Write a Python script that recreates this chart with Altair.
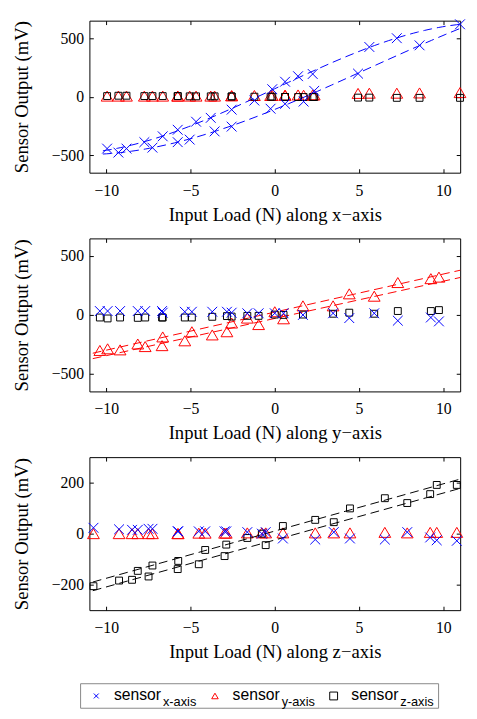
import altair as alt
import pandas as pd

# ---------------- data ----------------
# Panel 1: load along x-axis (two branches of the loading cycle)
p1_up_load = [-9.95, -8.8, -7.74, -6.65, -5.76, -4.67, -3.8, -2.56, -1.21, -0.15, 0.61, 1.38, 2.25, 5.61, 7.24, 10.99]
p1_up_sx = [-444, -444, -389, -339, -283, -214, -181, -111, -33, 64, 128, 175, 194, 425, 500, 619]
p1_up_sy = [5, 5, 5, 5, 5, 5, 5, 8, 10, 10, 12, 15, 15, 30, 30, 35]
p1_up_sz = [5, 8, 5, 5, 5, 3, 3, 2, 0, 0, -2, -3, -3, -8, -10, -10]
p1_dn_load = [-9.28, -7.26, -5.76, -5.05, -3.57, -2.56, -0.25, 0.61, 1.71, 2.34, 4.94, 8.59]
p1_dn_sx = [-478, -436, -389, -367, -297, -256, -103, -61, -42, 50, 197, 439]
p1_dn_sy = [5, 5, 5, 5, 5, 8, 10, 12, 12, 15, 28, 32]
p1_dn_sz = [8, 5, 5, 3, 3, 2, 0, -2, -3, -3, -8, -10]

# Panel 2: load along y-axis
p2_up_load = [-9.92, -8.13, -6.65, -4.92, -2.56, -1.63, 0.0, 1.67, 4.42, 7.3, 9.74]
p2_up_sx = [33, 33, 19, 27, 19, 14, 14, 0, -27, -49, -55]
p2_up_sy = [-288, -247, -187, -143, -69, -27, 27, 77, 179, 275, 321]
p2_up_sz = [-30, -25, -22, -22, -14, -8, 3, 3, 19, 33, 41]
p2_dn_load = [-10.38, -9.18, -7.69, -6.69, -5.34, -3.71, -2.84, -0.96, 0.52, 3.46, 5.9, 9.26]
p2_dn_sx = [33, 33, 33, 33, 27, 27, 27, 14, 14, 14, 14, -22]
p2_dn_sy = [-302, -297, -269, -261, -220, -170, -143, -82, -33, 77, 159, 308]
p2_dn_sz = [-22, -22, -22, -22, -22, -16, -10, -8, 0, 10, 10, 33]

# Panel 3: load along z-axis
p3_up_load = [-8.13, -7.26, -5.73, -4.13, -2.88, -1.63, -0.77, 0.48, 2.4, 4.46, 6.53, 9.61, 10.8]
p3_up_sx = [15, 19, 9, 9, 9, 6, 0, -19, -23, -19, -23, -26, -28]
p3_up_sy = [0, 0, 0, 2, 2, 3, 3, 3, 3, 3, 5, 5, 5]
p3_up_sz = [-146, -125, -107, -64, -43, -17, 0, 30, 54, 99, 139, 191, 191]
p3_dn_load = [-10.76, -9.24, -8.47, -7.49, -5.76, -4.51, -2.98, -0.54, 3.5, 7.86, 9.22]
p3_dn_sx = [23, 17, 15, 19, 9, 9, 9, 6, 6, 6, -15]
p3_dn_sy = [0, 0, 0, 0, 0, 2, 2, 3, 3, 3, 5]
p3_dn_sz = [-206, -184, -181, -168, -139, -120, -88, -45, 45, 120, 155]

x_ticks = [-10, -5, 0, 5, 10]
y_ticks_12 = [-500, 0, 500]
y_ticks_3 = [-200, 0, 200]
legend_keys = ["x-axis", "y-axis", "z-axis"]
legend_word = ["sensor", "sensor", "sensor"]
legend_pos = [0, 1, 2]

# ---------------- styling ----------------
SERIF = "Liberation Serif"
SANS = "Liberation Sans"
X_PATH = "M-1,-1L1,1M-1,1L1,-1"
TRI_PATH = "M0,-0.85L1,0.85L-1,0.85Z"
SQ_PATH = "M-1,-1L1,-1L1,1L-1,1Z"
COLORS = {"x": "#0000ff", "y": "#ff0000", "z": "#000000"}
SHAPES = {"x": X_PATH, "y": TRI_PATH, "z": SQ_PATH}
SIZES = {"x": 100, "y": 144, "z": 49}

W = 378


def build_df(up_load, up_sx, up_sy, up_sz, dn_load, dn_sx, dn_sy, dn_sz):
    rows = []
    for branch, L, sx, sy, sz in (("up", up_load, up_sx, up_sy, up_sz),
                                  ("down", dn_load, dn_sx, dn_sy, dn_sz)):
        for i, l in enumerate(L):
            rows.append({"load": l, "sensor": "x", "value": sx[i], "branch": branch})
            rows.append({"load": l, "sensor": "y", "value": sy[i], "branch": branch})
            rows.append({"load": l, "sensor": "z", "value": sz[i], "branch": branch})
    return pd.DataFrame(rows)


def panel(df, fit_sensor, ydom, yticks, xtitle, method, order, height):
    xs = alt.Scale(domain=[-11, 11], nice=False, zero=False)
    ys = alt.Scale(domain=ydom, nice=False, zero=False)
    common = dict(domain=False, grid=False, ticks=True, tickSize=4, tickColor="black",
                  tickWidth=1, offset=-4)
    lab = dict(labelFont=SERIF, labelFontSize=16, labelColor="black",
               titleFont=SERIF, titleFontSize=19, titleFontWeight="normal", titleColor="black")
    xaxis = alt.Axis(values=x_ticks, title=xtitle, labelPadding=10, titlePadding=7.5, **common, **lab)
    yaxis = alt.Axis(values=yticks, title="Sensor Output (mV)", labelPadding=6,
                     titlePadding=20, **common, **lab)

    layers = []
    # frame ticks on top and right
    frame = alt.Chart(df).mark_point(opacity=0).encode(
        x=alt.X("load:Q", scale=xs, axis=alt.Axis(orient="top", values=x_ticks, labels=False,
                                                   title=None, **common)),
        y=alt.Y("value:Q", scale=ys, axis=alt.Axis(orient="right", values=yticks, labels=False,
                                                    title=None, **common)),
    )
    first = True
    for s in ["y", "z", "x"]:
        ch = alt.Chart(df).transform_filter(alt.datum.sensor == s).mark_point(
            shape=SHAPES[s], size=SIZES[s], color=COLORS[s], filled=False,
            strokeWidth=1, opacity=1
        ).encode(
            x=alt.X("load:Q", scale=xs, axis=xaxis if first else None),
            y=alt.Y("value:Q", scale=ys, axis=yaxis if first else None),
        )
        first = False
        layers.append(ch)
    if method == "poly":
        reg = alt.Chart(df).transform_filter(alt.datum.sensor == fit_sensor).transform_regression(
            "load", "value", groupby=["branch"], method="poly", order=order, extent=[-10.2, 11])
    else:
        reg = alt.Chart(df).transform_filter(alt.datum.sensor == fit_sensor).transform_regression(
            "load", "value", groupby=["branch"], method="linear", extent=[-10.8, 11])
    fit = reg.mark_line(color=COLORS[fit_sensor], strokeDash=[9, 5], strokeWidth=1).encode(
        x=alt.X("load:Q", scale=xs, axis=None),
        y=alt.Y("value:Q", scale=ys, axis=None),
        detail="branch:N",
    )
    return alt.layer(layers[0], fit, layers[1], layers[2], frame).resolve_axis(
        x="independent", y="independent").properties(width=W, height=height)


df1 = build_df(p1_up_load, p1_up_sx, p1_up_sy, p1_up_sz, p1_dn_load, p1_dn_sx, p1_dn_sy, p1_dn_sz)
df2 = build_df(p2_up_load, p2_up_sx, p2_up_sy, p2_up_sz, p2_dn_load, p2_dn_sx, p2_dn_sy, p2_dn_sz)
df3 = build_df(p3_up_load, p3_up_sx, p3_up_sy, p3_up_sz, p3_dn_load, p3_dn_sx, p3_dn_sy, p3_dn_sz)

c1 = panel(df1, "x", [-650, 650], y_ticks_12, "Input Load (N) along x\u2212axis", "poly", 3, 155)
c2 = panel(df2, "y", [-650, 650], y_ticks_12, "Input Load (N) along y\u2212axis", "linear", 1, 156)
c3 = panel(df3, "z", [-300, 300], y_ticks_3, "Input Load (N) along z\u2212axis", "linear", 1, 156)

# ---------------- legend ----------------
leg_df = pd.DataFrame({"key": legend_keys, "word": legend_word, "pos": legend_pos})
leg_x = alt.X("pos:Q", scale=alt.Scale(domain=[0, 2], range=[7, 249]), axis=None)
box = alt.Chart(leg_df).transform_filter(alt.datum.pos == 0).mark_rect(
    fill="white", stroke="#888888", strokeWidth=1
).encode(x=alt.value(-9), x2=alt.value(356), y=alt.value(9), y2=alt.value(34))
syms = alt.Chart(leg_df).mark_point(filled=False, strokeWidth=1, opacity=1).encode(
    x=leg_x, y=alt.value(21.5),
    shape=alt.Shape("key:N", scale=alt.Scale(domain=legend_keys, range=[X_PATH, TRI_PATH, SQ_PATH]), legend=None),
    color=alt.Color("key:N", scale=alt.Scale(domain=legend_keys, range=["#0000ff", "#ff0000", "#000000"]), legend=None),
    size=alt.Size("key:O", scale=alt.Scale(domain=legend_keys, range=[25, 64, 36]), legend=None),
)
words = alt.Chart(leg_df).mark_text(align="left", baseline="alphabetic", dx=18, font=SANS,
                                    fontSize=16, color="black").encode(
    x=leg_x, y=alt.value(26), text="word:N")
subs = alt.Chart(leg_df).mark_text(align="left", baseline="alphabetic", dx=68, font=SANS,
                                   fontSize=13, color="black").encode(
    x=leg_x, y=alt.value(32), text="key:N")
legend = alt.layer(box, syms, words, subs).properties(
    width=W, height=34, view=alt.ViewBackground(stroke=None))

chart = alt.vconcat(c1, c2, c3, legend, spacing=13).properties(
    padding={"left": 4, "top": 2, "right": 0, "bottom": 0}
).configure_view(stroke="black", strokeWidth=1)

chart.save("out.html", embed_options={"renderer": "svg", "actions": False})
